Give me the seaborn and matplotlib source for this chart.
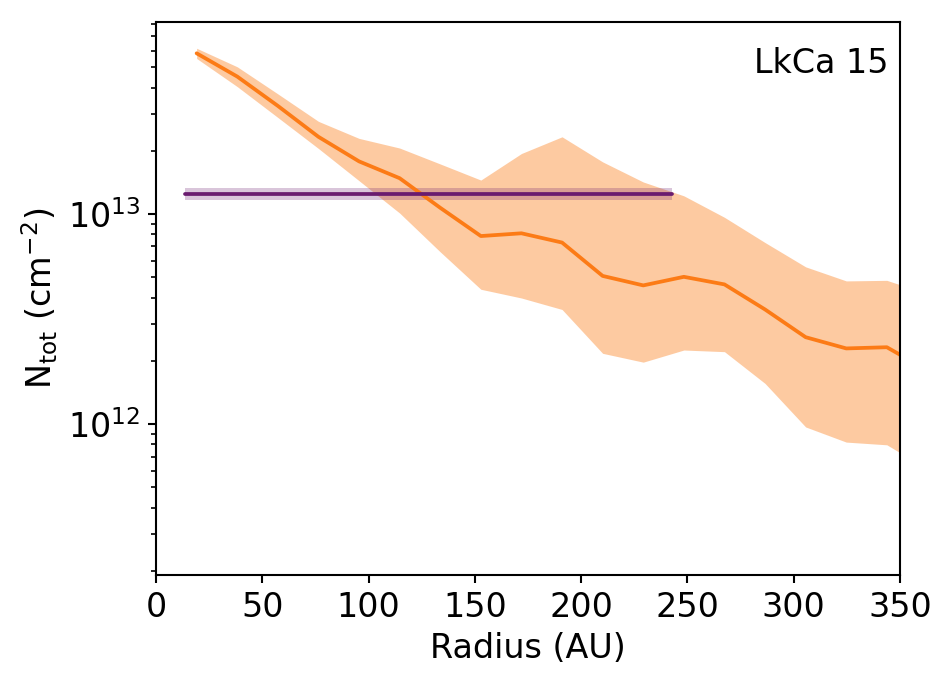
# LkCa 15 column density profile vs radius (log y)
import matplotlib
matplotlib.use('Agg')
import matplotlib.pyplot as plt
import seaborn as sns
import numpy as np
import pandas as pd

# radial profile
radius = [19.1, 38.2, 57.3, 76.4, 95.5, 114.6, 133.7, 152.8, 171.9, 191.0,
          210.1, 229.2, 248.3, 267.4, 286.5, 305.6, 324.7, 343.8, 362.9]
n_tot = [5.82e13, 4.51e13, 3.27e13, 2.33e13, 1.78e13, 1.48e13, 1.07e13, 7.85e12, 8.09e12, 7.31e12,
         5.07e12, 4.57e12, 5.02e12, 4.62e12, 3.51e12, 2.59e12, 2.29e12, 2.32e12, 1.80e12]
n_upper = [6.15e13, 5.02e13, 3.73e13, 2.76e13, 2.29e13, 2.06e13, 1.73e13, 1.45e13, 1.94e13, 2.33e13,
           1.77e13, 1.42e13, 1.22e13, 9.64e12, 7.31e12, 5.60e12, 4.80e12, 4.83e12, 4.17e12]
n_lower = [5.50e13, 4.04e13, 2.88e13, 2.05e13, 1.44e13, 1.01e13, 6.60e12, 4.38e12, 3.98e12, 3.51e12,
           2.17e12, 1.97e12, 2.25e12, 2.21e12, 1.56e12, 9.68e11, 8.20e11, 7.96e11, 6.10e11]

# disk-averaged value
avg_radius = [13.6, 242.6]
avg_value = [1.245e13, 1.245e13]
avg_upper = [1.325e13, 1.325e13]
avg_lower = [1.166e13, 1.166e13]

orange = '#fc7b16'
purple = '#6a1b6f'

sns.set_style('ticks')
plt.rcParams['font.family'] = ['DejaVu Sans']
plt.rcParams['text.color'] = 'black'
plt.rcParams['axes.labelcolor'] = 'black'
plt.rcParams['xtick.color'] = 'black'
plt.rcParams['ytick.color'] = 'black'
plt.rcParams['xtick.direction'] = 'out'
plt.rcParams['ytick.direction'] = 'out'

df = pd.DataFrame({'Radius': radius, 'N': n_tot})
df_avg = pd.DataFrame({'Radius': avg_radius, 'N': avg_value})

fig = plt.figure(figsize=(9.48 / 1.5, 6.80 / 1.5), dpi=150)
ax = fig.add_axes([0.1646, 0.1544, 0.7848, 0.8132])

ax.fill_between(radius, n_lower, n_upper, color=orange, alpha=0.4, linewidth=0)
sns.lineplot(data=df, x='Radius', y='N', ax=ax, color=orange, linewidth=1.8)

ax.fill_between(avg_radius, avg_lower, avg_upper, color=purple, alpha=0.25, linewidth=0)
sns.lineplot(data=df_avg, x='Radius', y='N', ax=ax, color=purple, linewidth=1.8)

ax.set_yscale('log')
ax.set_xlim(0, 350)
ax.set_ylim(1.91e11, 8.2e13)
ax.set_xticks(np.arange(0, 351, 50))

ax.set_xlabel('Radius (AU)', fontsize=16)
ax.set_ylabel(r'N$_{\rm tot}$ (cm$^{-2}$)', fontsize=16)
ax.tick_params(axis='both', which='major', labelsize=16, length=4, width=1, color='black')
ax.tick_params(axis='y', which='minor', length=2.5, width=0.8, color='black')
for s in ax.spines.values():
    s.set_color('black')
    s.set_linewidth(1)

ax.text(0.985, 0.955, 'LkCa 15', transform=ax.transAxes, ha='right', va='top', fontsize=16)

fig.savefig('out.png', dpi=150)
